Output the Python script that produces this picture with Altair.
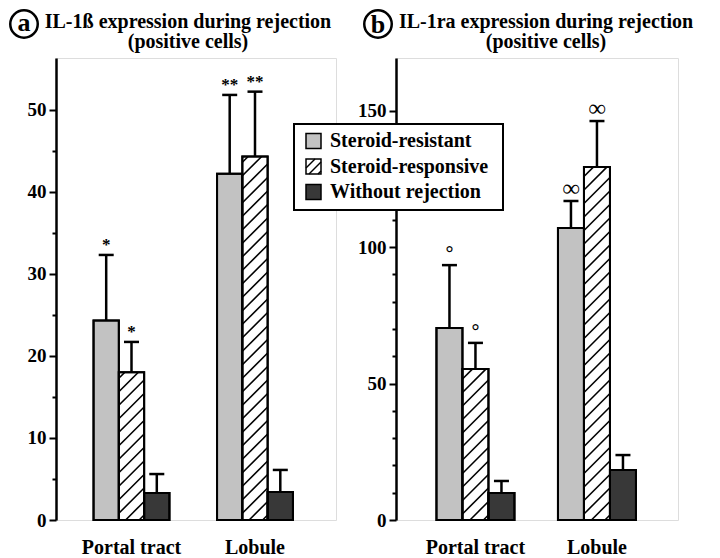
import altair as alt
import pandas as pd

# ---------------- data ----------------
groups = ["Portal tract", "Lobule"]
series = ["Steroid-resistant", "Steroid-responsive", "Without rejection"]
colors = ["#c2c2c2", "#ffffff", "#383838"]

# panel a: IL-1ß positive cells
a_values = {
    "Steroid-resistant": [24.3, 42.2],
    "Steroid-responsive": [18.0, 44.3],
    "Without rejection": [3.3, 3.4],
}
a_sd = {
    "Steroid-resistant": [8.0, 9.6],
    "Steroid-responsive": [3.7, 7.9],
    "Without rejection": [2.3, 2.7],
}
a_marks = {
    "Steroid-resistant": ["*", "**"],
    "Steroid-responsive": ["*", "**"],
    "Without rejection": ["", ""],
}

# panel b: IL-1ra positive cells
b_values = {
    "Steroid-resistant": [70.4, 107.0],
    "Steroid-responsive": [55.3, 129.4],
    "Without rejection": [9.9, 18.3],
}
b_sd = {
    "Steroid-resistant": [23.0, 9.9],
    "Steroid-responsive": [9.6, 16.8],
    "Without rejection": [4.4, 5.5],
}
b_marks = {
    "Steroid-resistant": ["°", "∞"],
    "Steroid-responsive": ["°", "∞"],
    "Without rejection": ["", ""],
}

a_ticks = [0, 5, 10, 15, 20, 25, 30, 35, 40, 45, 50]
b_ticks = [0, 10, 20, 30, 40, 50, 60, 70, 80, 90, 100, 110, 120, 130, 140, 150]

FONT = "Liberation Serif"
H = 462
MARK_SIZE = {"*": 17, "**": 17, "°": 20, "∞": 24}


def hatch_segments(xl, xr, top, kx, ky, period=13.5, phase=5.0):
    w = (xr - xl) * kx
    h = top * ky
    segs = []
    c = -w + phase
    while c < h:
        u1 = max(0.0, -c)
        u2 = min(w, h - c)
        if u2 > u1:
            segs.append((xl + u1 / kx, (u1 + c) / ky, xl + u2 / kx, (u2 + c) / ky))
        c += period
    return segs


def make_panel(values, sds, marks, W, xmin, xmax, bw_px, ymax, ticks, label_every,
               letter, line1, title_cx, letter_cx, legend=False):
    step_px = W / (xmax - xmin)  # px per x unit
    bw = bw_px / step_px
    cap = 7.5 / step_px
    ky = H / ymax

    rows = []
    for si, s in enumerate(series):
        for gi, g in enumerate(groups):
            v = values[s][gi]
            sd = sds[s][gi]
            xc = gi + (si - 1) * bw
            m = marks[s][gi]
            rows.append(dict(group=g, series=s, value=v, base=0.0, top=v + sd,
                             xc=xc, xl=xc - bw / 2, xr=xc + bw / 2,
                             cl=xc - cap, cr=xc + cap, mark=m, fs=MARK_SIZE.get(m, 17)))
    df = pd.DataFrame(rows)

    hrows = []
    for r in rows:
        if r["series"] == "Steroid-responsive":
            for x1, y1, x2, y2 in hatch_segments(r["xl"], r["xr"], r["value"], step_px, ky):
                hrows.append(dict(x1=x1, y1=y1, x2=x2, y2=y2))
    hdf = pd.DataFrame(hrows)

    gdf = pd.DataFrame({"group": groups, "gx": [0.0, 1.0]})

    xs = alt.Scale(domain=[xmin, xmax], nice=False, zero=False)
    ys = alt.Scale(domain=[0, ymax], nice=False, zero=True)
    yaxis = alt.Axis(
        values=ticks,
        labelExpr=f"datum.value % {label_every} == 0 ? datum.label : ''",
        tickSize={"condition": {"test": f"datum.value % {label_every} == 0", "value": 7}, "value": 4},
        tickWidth=2, tickColor="black", domainColor="black", domainWidth=2.5,
        labelFont=FONT, labelFontSize=19, labelFontWeight="bold", labelColor="black",
        labelPadding=3, grid=False, title=None,
    )

    def X(f):
        return alt.X(f, type="quantitative", scale=xs, axis=None)

    def Y(f):
        return alt.Y(f, type="quantitative", scale=ys, axis=yaxis)

    fill = alt.Fill("series:N", scale=alt.Scale(domain=series, range=colors), legend=None)

    bars = alt.Chart(df).mark_rect(stroke="black", strokeWidth=2).encode(
        x=X("xl"), x2="xr", y=Y("value"), y2="base", fill=fill)
    hatch = alt.Chart(hdf).mark_rule(color="black", strokeWidth=1.6).encode(
        x=X("x1"), x2="x2", y=Y("y1"), y2="y2")
    outline = alt.Chart(df).mark_rect(fill=None, stroke="black", strokeWidth=2).encode(
        x=X("xl"), x2="xr", y=Y("value"), y2="base")
    err = alt.Chart(df).mark_rule(color="black", strokeWidth=2.5).encode(
        x=X("xc"), y=Y("value"), y2="top")
    caps = alt.Chart(df).mark_rule(color="black", strokeWidth=2.5).encode(
        x=X("cl"), x2="cr", y=Y("top"))
    sig = alt.Chart(df).transform_filter("datum.mark != ''").mark_text(
        font=FONT, fontWeight="bold", baseline="alphabetic", dy=-5, color="black"
    ).encode(x=X("xc"), y=Y("top"), text="mark:N", size=alt.Size("fs:Q", scale=None))
    xlab = alt.Chart(gdf).mark_text(
        font=FONT, fontWeight="bold", fontSize=20, baseline="alphabetic", color="black"
    ).encode(x=X("gx"), y=alt.value(H + 34), text="group:N")

    one = pd.DataFrame({"k": [0]})
    cy = -34
    circ = alt.Chart(one).mark_arc(theta=0, theta2=6.2832, radius=15, radius2=12.5,
                                   color="black").encode(
        x=alt.value(letter_cx), y=alt.value(cy))
    let = alt.Chart(one).mark_text(font=FONT, fontWeight="bold", fontSize=26,
                                   baseline="middle", color="black").encode(
        x=alt.value(letter_cx), y=alt.value(cy - (1 if letter == "a" else -1)), text=alt.value(letter))
    t1 = alt.Chart(one).mark_text(font=FONT, fontWeight="bold", fontSize=20,
                                  baseline="middle", color="black").encode(
        x=alt.value(title_cx), y=alt.value(-36), text=alt.value(line1))
    t2 = alt.Chart(one).mark_text(font=FONT, fontWeight="bold", fontSize=20,
                                  baseline="middle", color="black").encode(
        x=alt.value(title_cx), y=alt.value(-16), text=alt.value("(positive cells)"))

    layers = [bars, hatch, outline, err, caps, sig, xlab, circ, let, t1, t2]

    if legend:
        bx1, bx2, by1, by2 = -102, 107, 66, 152
        layers.append(alt.Chart(one).mark_rect(fill="white", stroke="black", strokeWidth=2).encode(
            x=alt.value(bx1), x2=alt.value(bx2), y=alt.value(by1), y2=alt.value(by2)))
        row_cy = [83, 108.5, 134]
        for s, c, ry in zip(series, colors, row_cy):
            sx1, sx2 = -90, -75
            sy1, sy2 = ry - 7.5, ry + 7.5
            layers.append(alt.Chart(one).mark_rect(fill=c, stroke="black", strokeWidth=1.5).encode(
                x=alt.value(sx1), x2=alt.value(sx2), y=alt.value(sy1), y2=alt.value(sy2)))
            if s == "Steroid-responsive":
                for (u1, t1_, u2, t2_) in hatch_segments(0, 15, 15, 1, 1, period=9, phase=3):
                    layers.append(alt.Chart(one).mark_rule(color="black", strokeWidth=1.5).encode(
                        x=alt.value(sx1 + u1), x2=alt.value(sx1 + u2),
                        y=alt.value(sy2 - t1_), y2=alt.value(sy2 - t2_)))
            layers.append(alt.Chart(one).mark_text(font=FONT, fontWeight="bold", fontSize=20,
                                                   align="left", baseline="middle", color="black").encode(
                x=alt.value(-66), y=alt.value(ry), text=alt.value(s)))

    return alt.layer(*layers).properties(width=W, height=H)


panel_a = make_panel(a_values, a_sd, a_marks, W=280, xmin=-0.6113, xmax=1.6559, bw_px=25.3,
                     ymax=56.3, ticks=a_ticks, label_every=10, letter="a",
                     line1="IL-1ß expression during rejection", title_cx=132, letter_cx=-32)
panel_b = make_panel(b_values, b_sd, b_marks, W=282, xmin=-0.654, xmax=1.667, bw_px=26,
                     ymax=169.3, ticks=b_ticks, label_every=50, letter="b",
                     line1="IL-1ra expression during rejection", title_cx=150, letter_cx=-18,
                     legend=True)

chart = alt.hconcat(panel_a, panel_b, spacing=60).properties(
    bounds="flush",
    padding={"left": 0, "top": 0, "right": 0, "bottom": 0},
).configure_view(stroke="black", strokeWidth=2.2).configure(background="white")

chart.save("out.html", embed_options={"renderer": "svg", "actions": False})
